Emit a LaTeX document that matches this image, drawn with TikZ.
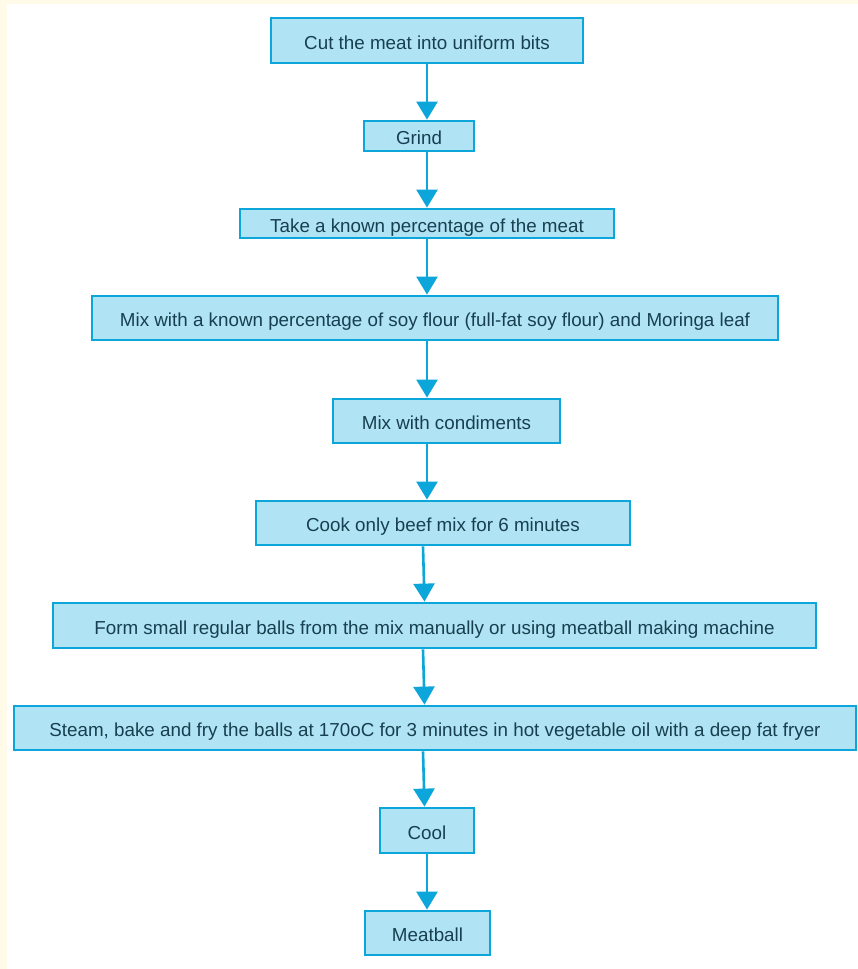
\documentclass[tikz,border=0pt]{standalone}
\usepackage{fontspec}
\setmainfont{Liberation Sans}
\usetikzlibrary{arrows.meta}
\definecolor{cream}{HTML}{FFFBE8}
\definecolor{boxfill}{HTML}{B0E4F4}
\definecolor{boxline}{HTML}{0DA6DA}
\definecolor{txt}{HTML}{173F4F}
\tikzset{
  stepbox/.style={draw=boxline, fill=boxfill, line width=2.8pt, inner sep=0pt,
    text=txt, font=\fontsize{18.8}{20}\selectfont, text height=17.5pt, text depth=0pt,
    anchor=center},
  flow/.style={draw=boxline, line width=2.6pt, -{Triangle[length=18pt,width=21pt]}}
}
\begin{document}
\begin{tikzpicture}[x=1pt,y=-1pt]
\useasboundingbox (0,0) rectangle (858,969);
\fill[cream] (0,0) rectangle (858,969);
\fill[white] (7,4) rectangle (858,969);
\coordinate (axis) at (427,0);
\coordinate (axisb) at (423,0);
\coordinate (axisc) at (424.5,0);
\node[stepbox, minimum width=312pt, minimum height=45pt] (cut) at (427,40.5) {Cut the meat into uniform bits};
\node[stepbox, minimum width=110pt, minimum height=30pt] (grind) at (419,136) {Grind};
\node[stepbox, minimum width=374pt, minimum height=29pt] (take) at (427,223.5) {Take a known percentage of the meat};
\node[stepbox, minimum width=686pt, minimum height=44pt] (soy) at (435,318) {Mix with a known percentage of soy flour (full-fat soy flour) and Moringa leaf};
\node[stepbox, minimum width=227pt, minimum height=44pt] (cond) at (446.5,421) {Mix with condiments};
\node[stepbox, minimum width=374pt, minimum height=44pt] (cook) at (443,523) {Cook only beef mix for 6 minutes};
\node[stepbox, minimum width=763pt, minimum height=45pt] (form) at (434.5,625.5) {Form small regular balls from the mix manually or using meatball making machine};
\node[stepbox, minimum width=842pt, minimum height=44pt] (steam) at (435,728) {Steam, bake and fry the balls at 170oC for 3 minutes in hot vegetable oil with a deep fat fryer};
\node[stepbox, minimum width=94pt, minimum height=45pt] (cool) at (427,830.5) {Cool};
\node[stepbox, minimum width=125pt, minimum height=44pt] (ball) at (427.5,933) {Meatball};
\draw[flow] (cut.south -| axis) -- (grind.north -| axis);
\draw[flow] (grind.south -| axis) -- (take.north -| axis);
\draw[flow] (take.south -| axis) -- (soy.north -| axis);
\draw[flow] (soy.south -| axis) -- (cond.north -| axis);
\draw[flow] (cond.south -| axis) -- (cook.north -| axis);
\draw[flow] (cook.south -| axisb) -- (form.north -| axisc);
\draw[flow] (form.south -| axisb) -- (steam.north -| axisc);
\draw[flow] (steam.south -| axisb) -- (cool.north -| axisc);
\draw[flow] (cool.south -| axis) -- (ball.north -| axis);
\end{tikzpicture}
\end{document}
